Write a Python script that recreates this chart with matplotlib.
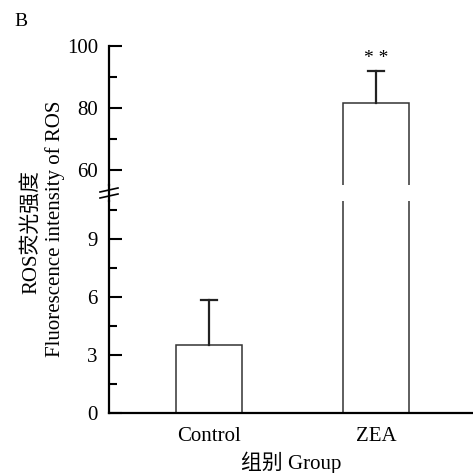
import numpy as np
import matplotlib
matplotlib.use("Agg")
import matplotlib.pyplot as plt
from matplotlib.lines import Line2D
from matplotlib.ticker import MultipleLocator

plt.rcParams["font.family"] = ["Liberation Serif", "Noto Sans CJK SC", "DejaVu Sans"]

groups = ["Control", "ZEA"]
means = [3.5, 81.6]
errors = [2.35, 10.3]
signif = ["", "* *"]

W, H = 473, 473
fig = plt.figure(figsize=(W / 100, H / 100), dpi=100)

# pixel helpers
def fx(px):
    return px / W

def fy(py):
    return 1 - py / H

left, right = 109, 473
x_lim = (-0.599, -0.599 + (right - left) / 167.0)

# lower axes: 0 at y=413, top edge at y=201
ax_lo = fig.add_axes([fx(left), fy(413), fx(right - left), fy(201) - fy(413)])
# upper axes: 100 at y=46, bottom edge at y=185
ax_hi = fig.add_axes([fx(left), fy(185), fx(right - left), fy(46) - fy(185)])

x = np.arange(len(groups))
lo_top = (413 - 201) / 58.0 * 3
hi_bot = 80 - (185 - 108) / 62.0 * 20
cap = 0.05

for ax in (ax_lo, ax_hi):
    ax.bar(x, means, width=0.4, color="white", edgecolor="#333333",
           linewidth=1.1, zorder=2)
    # upper error bars only
    for xi, m, e in zip(x, means, errors):
        ax.plot([xi, xi], [m, m + e], color="#222222", lw=1.6, zorder=3)
        ax.plot([xi - cap, xi + cap], [m + e, m + e], color="#222222", lw=1.6, zorder=3)
    ax.set_xlim(*x_lim)
    for s in ("top", "right"):
        ax.spines[s].set_visible(False)
    ax.spines["left"].set_linewidth(1.6)
    ax.tick_params(axis="y", direction="in", length=9, width=1.5,
                   labelsize=15, pad=8)
    ax.tick_params(axis="y", which="minor", direction="in", length=6, width=1.5)
    ax.patch.set_alpha(0)

ax_lo.set_ylim(0, lo_top)
ax_lo.yaxis.set_major_locator(MultipleLocator(3))
ax_lo.yaxis.set_minor_locator(MultipleLocator(1.5))
ax_lo.spines["bottom"].set_linewidth(1.6)
ax_lo.set_xticks(x)
ax_lo.set_xticklabels(groups, fontsize=15)
ax_lo.tick_params(axis="x", length=0, pad=10)
ax_lo.set_xlabel("组别 Group", fontsize=15, labelpad=4)

ax_hi.set_ylim(hi_bot, 100)
ax_hi.set_yticks([60, 80, 100])
ax_hi.yaxis.set_minor_locator(MultipleLocator(10))
ax_hi.spines["bottom"].set_visible(False)
ax_hi.set_xticks([])

for xi, m, e, s in zip(x, means, errors, signif):
    if s:
        ax_hi.text(xi, m + e + 1.3, s, ha="center", va="bottom", fontsize=14)

# spine across the break, with the break marks
fig.add_artist(Line2D([fx(left), fx(left)], [fy(185), fy(201)], color="black", lw=1.6))
for yy in (190, 196):
    fig.add_artist(Line2D([fx(left - 9), fx(left + 9)], [fy(yy + 2), fy(yy - 2)],
                          color="black", lw=1.2))

fig.text(fx(31), fy(232), "ROS荧光强度", rotation=90, ha="center", va="center", fontsize=15)
fig.text(fx(55), fy(229), "Fluorescence intensity of ROS", rotation=90,
         ha="center", va="center", fontsize=15)
fig.text(fx(14), fy(22), "B", ha="left", va="center", fontsize=14)

fig.savefig("out.png", dpi=100)
